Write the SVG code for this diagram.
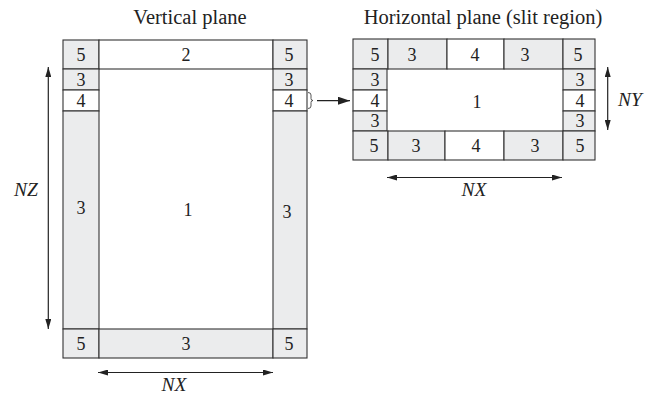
<svg xmlns="http://www.w3.org/2000/svg" width="656" height="397" viewBox="0 0 656 397">
<defs>
<style>
.g{fill:#ebeced;stroke:#333;stroke-width:1.1}
.w{fill:#fff;stroke:#333;stroke-width:1.1}
.t{font-family:"Liberation Serif","Times New Roman",serif;font-size:18px;fill:#222;text-anchor:middle}
.h{font-family:"Liberation Serif","Times New Roman",serif;font-size:20.5px;fill:#222;text-anchor:middle}
.i{font-family:"Liberation Serif","Times New Roman",serif;font-size:19.5px;font-style:italic;fill:#222;text-anchor:middle}
.a{stroke:#222;stroke-width:1.2;fill:none}
</style>
<marker id="ah" viewBox="0 0 10 6" refX="10" refY="3" markerWidth="10" markerHeight="6" markerUnits="userSpaceOnUse" orient="auto-start-reverse">
<path d="M0,0 L10,3 L0,6 z" fill="#222"/>
</marker>
<marker id="ahb" viewBox="0 0 12 8" refX="12" refY="4" markerWidth="12" markerHeight="8" markerUnits="userSpaceOnUse" orient="auto">
<path d="M0,0 L12,4 L0,8 z" fill="#222"/>
</marker>
</defs>
<rect width="656" height="397" fill="#fff"/>
<text class="h" x="190" y="24">Vertical plane</text>
<text class="h" x="483" y="24">Horizontal plane (slit region)</text>

<g id="vertical-plane">
<rect class="g" x="63" y="40" width="36" height="29"/>
<rect class="w" x="99" y="40" width="174" height="29"/>
<rect class="g" x="273" y="40" width="34" height="29"/>
<rect class="g" x="63" y="69" width="36" height="21"/>
<rect class="w" x="63" y="90" width="36" height="21"/>
<rect class="g" x="63" y="111" width="36" height="218"/>
<rect class="g" x="273" y="69" width="34" height="21"/>
<rect class="w" x="273" y="90" width="34" height="21"/>
<rect class="g" x="273" y="111" width="34" height="218"/>
<rect class="g" x="63" y="329" width="36" height="29"/>
<rect class="g" x="99" y="329" width="174" height="29"/>
<rect class="g" x="273" y="329" width="34" height="29"/>
<text class="t" x="81" y="61">5</text>
<text class="t" x="186" y="61">2</text>
<text class="t" x="289" y="61">5</text>
<text class="t" x="81" y="86">3</text>
<text class="t" x="81" y="107">4</text>
<text class="t" x="289" y="86">3</text>
<text class="t" x="289" y="107">4</text>
<text class="t" x="81" y="214">3</text>
<text class="t" x="188" y="216">1</text>
<text class="t" x="287" y="218">3</text>
<text class="t" x="81" y="350">5</text>
<text class="t" x="186" y="350">3</text>
<text class="t" x="289" y="350">5</text>
</g>

<g id="horizontal-plane">
<rect class="g" x="353" y="39" width="35" height="30"/>
<rect class="g" x="388" y="39" width="59" height="30"/>
<rect class="w" x="447" y="39" width="57" height="30"/>
<rect class="g" x="504" y="39" width="59" height="30"/>
<rect class="g" x="563" y="39" width="32" height="30"/>
<rect class="g" x="353" y="69" width="34" height="21"/>
<rect class="w" x="353" y="90" width="34" height="21"/>
<rect class="g" x="353" y="111" width="34" height="20"/>
<rect class="g" x="563" y="69" width="32" height="21"/>
<rect class="w" x="563" y="90" width="32" height="21"/>
<rect class="g" x="563" y="111" width="32" height="20"/>
<rect class="g" x="353" y="131" width="35" height="29"/>
<rect class="g" x="388" y="131" width="57" height="29"/>
<rect class="w" x="445" y="131" width="59" height="29"/>
<rect class="g" x="504" y="131" width="59" height="29"/>
<rect class="g" x="563" y="131" width="32" height="29"/>
<text class="t" x="375" y="61">5</text>
<text class="t" x="412" y="61">3</text>
<text class="t" x="475" y="61">4</text>
<text class="t" x="525" y="61">3</text>
<text class="t" x="578" y="61">5</text>
<text class="t" x="375" y="86">3</text>
<text class="t" x="375" y="107">4</text>
<text class="t" x="375" y="127">3</text>
<text class="t" x="580" y="86">3</text>
<text class="t" x="580" y="107">4</text>
<text class="t" x="580" y="127">3</text>
<text class="t" x="477" y="108">1</text>
<text class="t" x="374" y="152">5</text>
<text class="t" x="416" y="152">3</text>
<text class="t" x="476" y="152">4</text>
<text class="t" x="535" y="152">3</text>
<text class="t" x="580" y="152">5</text>
</g>

<g id="connectors">
<path class="a" d="M48.3,67 V329" marker-start="url(#ah)" marker-end="url(#ah)"/>
<path class="a" d="M98,372.5 H273" marker-start="url(#ah)" marker-end="url(#ah)"/>
<path class="a" d="M607.7,67 V130" marker-start="url(#ah)" marker-end="url(#ah)"/>
<path class="a" d="M387,177.5 H562" marker-start="url(#ah)" marker-end="url(#ah)"/>
<path d="M308,92.5 Q311,92.5 311,95 V98.5 Q311,100.5 313,100.5 Q311,100.5 311,102.5 V106 Q311,108.5 308,108.5" fill="none" stroke="#444" stroke-width="0.9"/>
<path class="a" d="M317,100.7 H350" stroke-width="1.8" marker-end="url(#ahb)"/>
</g>

<text class="i" x="26" y="196">NZ</text>
<text class="i" x="174" y="391">NX</text>
<text class="i" x="630" y="106">NY</text>
<text class="i" x="474" y="196">NX</text>
</svg>
